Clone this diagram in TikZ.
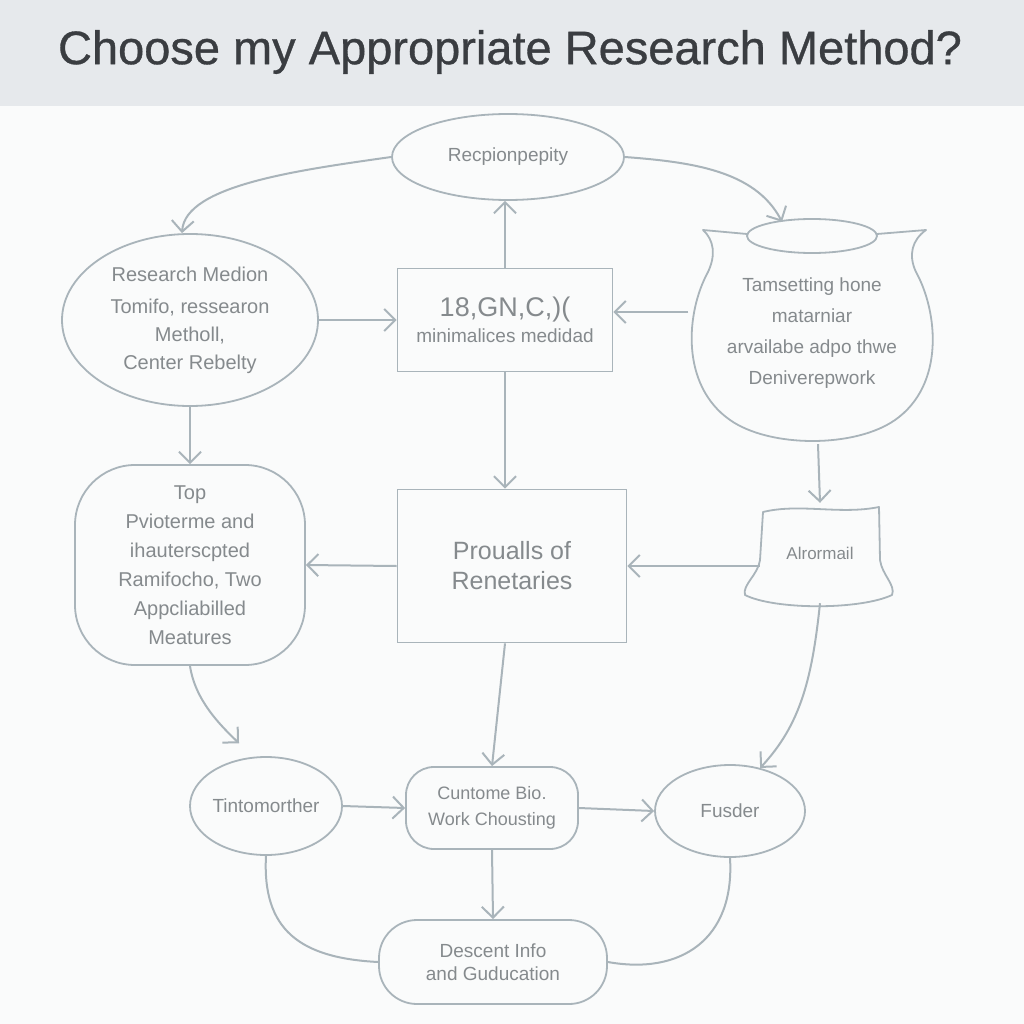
\documentclass[tikz,border=0pt]{standalone}
\usepackage{fontspec}
\setmainfont{Liberation Sans}
\newfontfamily\headfont[FakeBold=0.7]{Liberation Sans}
\usepackage{xcolor}
\usepackage{tikz}
\usetikzlibrary{arrows.meta,positioning,shapes.geometric}
\definecolor{HeadBG}   {HTML}{E6E9EC}
\definecolor{HeadText} {HTML}{3A3D41}
\definecolor{PageBG}   {HTML}{FAFBFB}
\definecolor{EdgeGrey} {HTML}{A9B4BA}
\definecolor{SoftText} {HTML}{858A8D}
\tikzset{
  shapeline/.style={draw=EdgeGrey,line width=1.8pt},
  flow/.style={draw=EdgeGrey,line width=2pt,-{Straight Barb[length=11pt,width=22pt]}},
  link/.style={draw=EdgeGrey,line width=2pt},
  lbl/.style={text=SoftText,align=center,inner sep=0pt},
}
\begin{document}
\begin{tikzpicture}[x=1pt,y=-1pt]
    \useasboundingbox (0,0) rectangle (1024,1024);
    \fill[PageBG] (0,106) rectangle (1024,1024);
    \fill[HeadBG] (0,0) rectangle (1024,106);
    \node[text=HeadText,font=\headfont\fontsize{47}{52}\selectfont] (title) at (510,52)
      {Choose my Appropriate Research Method?};

    % top row
    \node[ellipse,shapeline,lbl,minimum width=232pt,minimum height=86pt,
          font=\fontsize{19}{24}\selectfont] (recp) at (508,157) {Recpionpepity};
    \node[ellipse,shapeline,lbl,minimum width=256pt,minimum height=172pt,inner xsep=-4pt,
          font=\fontsize{20}{28}\selectfont] (rmed) at (190,320)
      {Research Medion\\[4pt]Tomifo, ressearon\\Metholl,\\Center Rebelty};
    \node[rectangle,shapeline,lbl,minimum width=215pt,minimum height=103pt] (code) at (505,320)
      {{\fontsize{27}{30}\selectfont 18,GN,C,)(}\\[6pt]{\fontsize{19}{22}\selectfont minimalices medidad}};
    \node[lbl,minimum width=247pt,minimum height=222pt,
          font=\fontsize{19}{31}\selectfont] (pot) at (812,333)
      {Tamsetting hone\\matarniar\\arvailabe adpo thwe\\Deniverepwork};
    % pot outline
    \draw[shapeline] (812,236) ellipse [x radius=65pt,y radius=17pt];
    \draw[shapeline,line join=round] (747,234) -- (703,230)
      .. controls (714,240) and (716,255) .. (708,272)
      .. controls (686,312) and (680,385) .. (730,420)
      .. controls (770,448) and (855,448) .. (895,420)
      .. controls (945,385) and (938,312) .. (916,272)
      .. controls (908,255) and (912,240) .. (926,230) -- (877,234);

    % middle row
    \node[rectangle,shapeline,lbl,rounded corners=60pt,minimum width=230pt,minimum height=200pt,
          font=\fontsize{20}{29}\selectfont] (topb) at (190,565)
      {Top\\Pvioterme and\\ihauterscpted\\Ramifocho, Two\\Appcliabilled\\Meatures};
    \node[rectangle,shapeline,lbl,minimum width=229pt,minimum height=153pt,
          font=\fontsize{25}{30}\selectfont] (prou) at (512,566) {Proualls of\\Renetaries};
    \node[lbl,minimum width=120pt,minimum height=100pt,
          font=\fontsize{17}{20}\selectfont] (alro) at (820,553) {Alrormail};
    % bucket outline
    \draw[shapeline,line join=round] (763,512)
      .. controls (800,503) and (840,515) .. (879,507) -- (880,560)
      .. controls (882,575) and (896,585) .. (892,595)
      .. controls (860,610) and (775,610) .. (745,595)
      .. controls (742,585) and (758,575) .. (760,560) -- cycle;

    % bottom row
    \node[ellipse,shapeline,lbl,minimum width=152pt,minimum height=98pt,inner xsep=-12pt,
          font=\fontsize{19}{24}\selectfont] (tint) at (266,806) {Tintomorther};
    \node[rectangle,shapeline,lbl,rounded corners=28pt,minimum width=172pt,minimum height=82pt,
          font=\fontsize{18}{26}\selectfont] (cunt) at (492,808) {Cuntome Bio.\\Work Chousting};
    \node[ellipse,shapeline,lbl,minimum width=150pt,minimum height=92pt,
          font=\fontsize{19}{24}\selectfont] (fusd) at (730,811) {Fusder};
    \node[rectangle,shapeline,lbl,rounded corners=38pt,minimum width=228pt,minimum height=84pt,
          font=\fontsize{19}{23}\selectfont] (desc) at (493,962) {Descent Info\\and Guducation};

    % connectors
    \draw[flow] (recp.west) .. controls (300,170) and (185,185) .. ([xshift=-8pt]rmed.north);
    \draw[flow] (recp.east) .. controls (690,162) and (755,170) .. ([xshift=-30pt]pot.north);
    \draw[flow] (code.north) -- (code.north |- recp.south);
    \draw[flow] (rmed.east) -- (code.west);
    \draw[flow] ([yshift=21pt]pot.west) -- ([yshift=8pt]code.east);
    \draw[flow] (rmed.south) -- (topb.north);
    \draw[flow] (code.south) -- (code.south |- prou.north);
    \draw[flow] ([xshift=6pt]pot.south) -- (alro.north);
    \draw[flow] (alro.west |- prou.east) -- (prou.east);
    \draw[flow] (prou.west) -- (topb.east);
    \draw[flow] (topb.south) .. controls (195,700) and (220,725) .. ([yshift=16pt]tint.120);
    \draw[flow] ([xshift=-7pt]prou.south) -- (cunt.north);
    \draw[flow] (alro.south) .. controls (812,680) and (800,725) .. (fusd.55);
    \draw[flow] (tint.east) -- (cunt.west);
    \draw[flow] (cunt.east) -- (fusd.west);
    \draw[flow] (cunt.south) -- (desc.north);
    \draw[link] (tint.south) .. controls (262,930) and (300,958) .. (desc.west);
    \draw[link] (fusd.south) .. controls (735,940) and (680,975) .. (desc.east);
  \end{tikzpicture}
\end{document}
